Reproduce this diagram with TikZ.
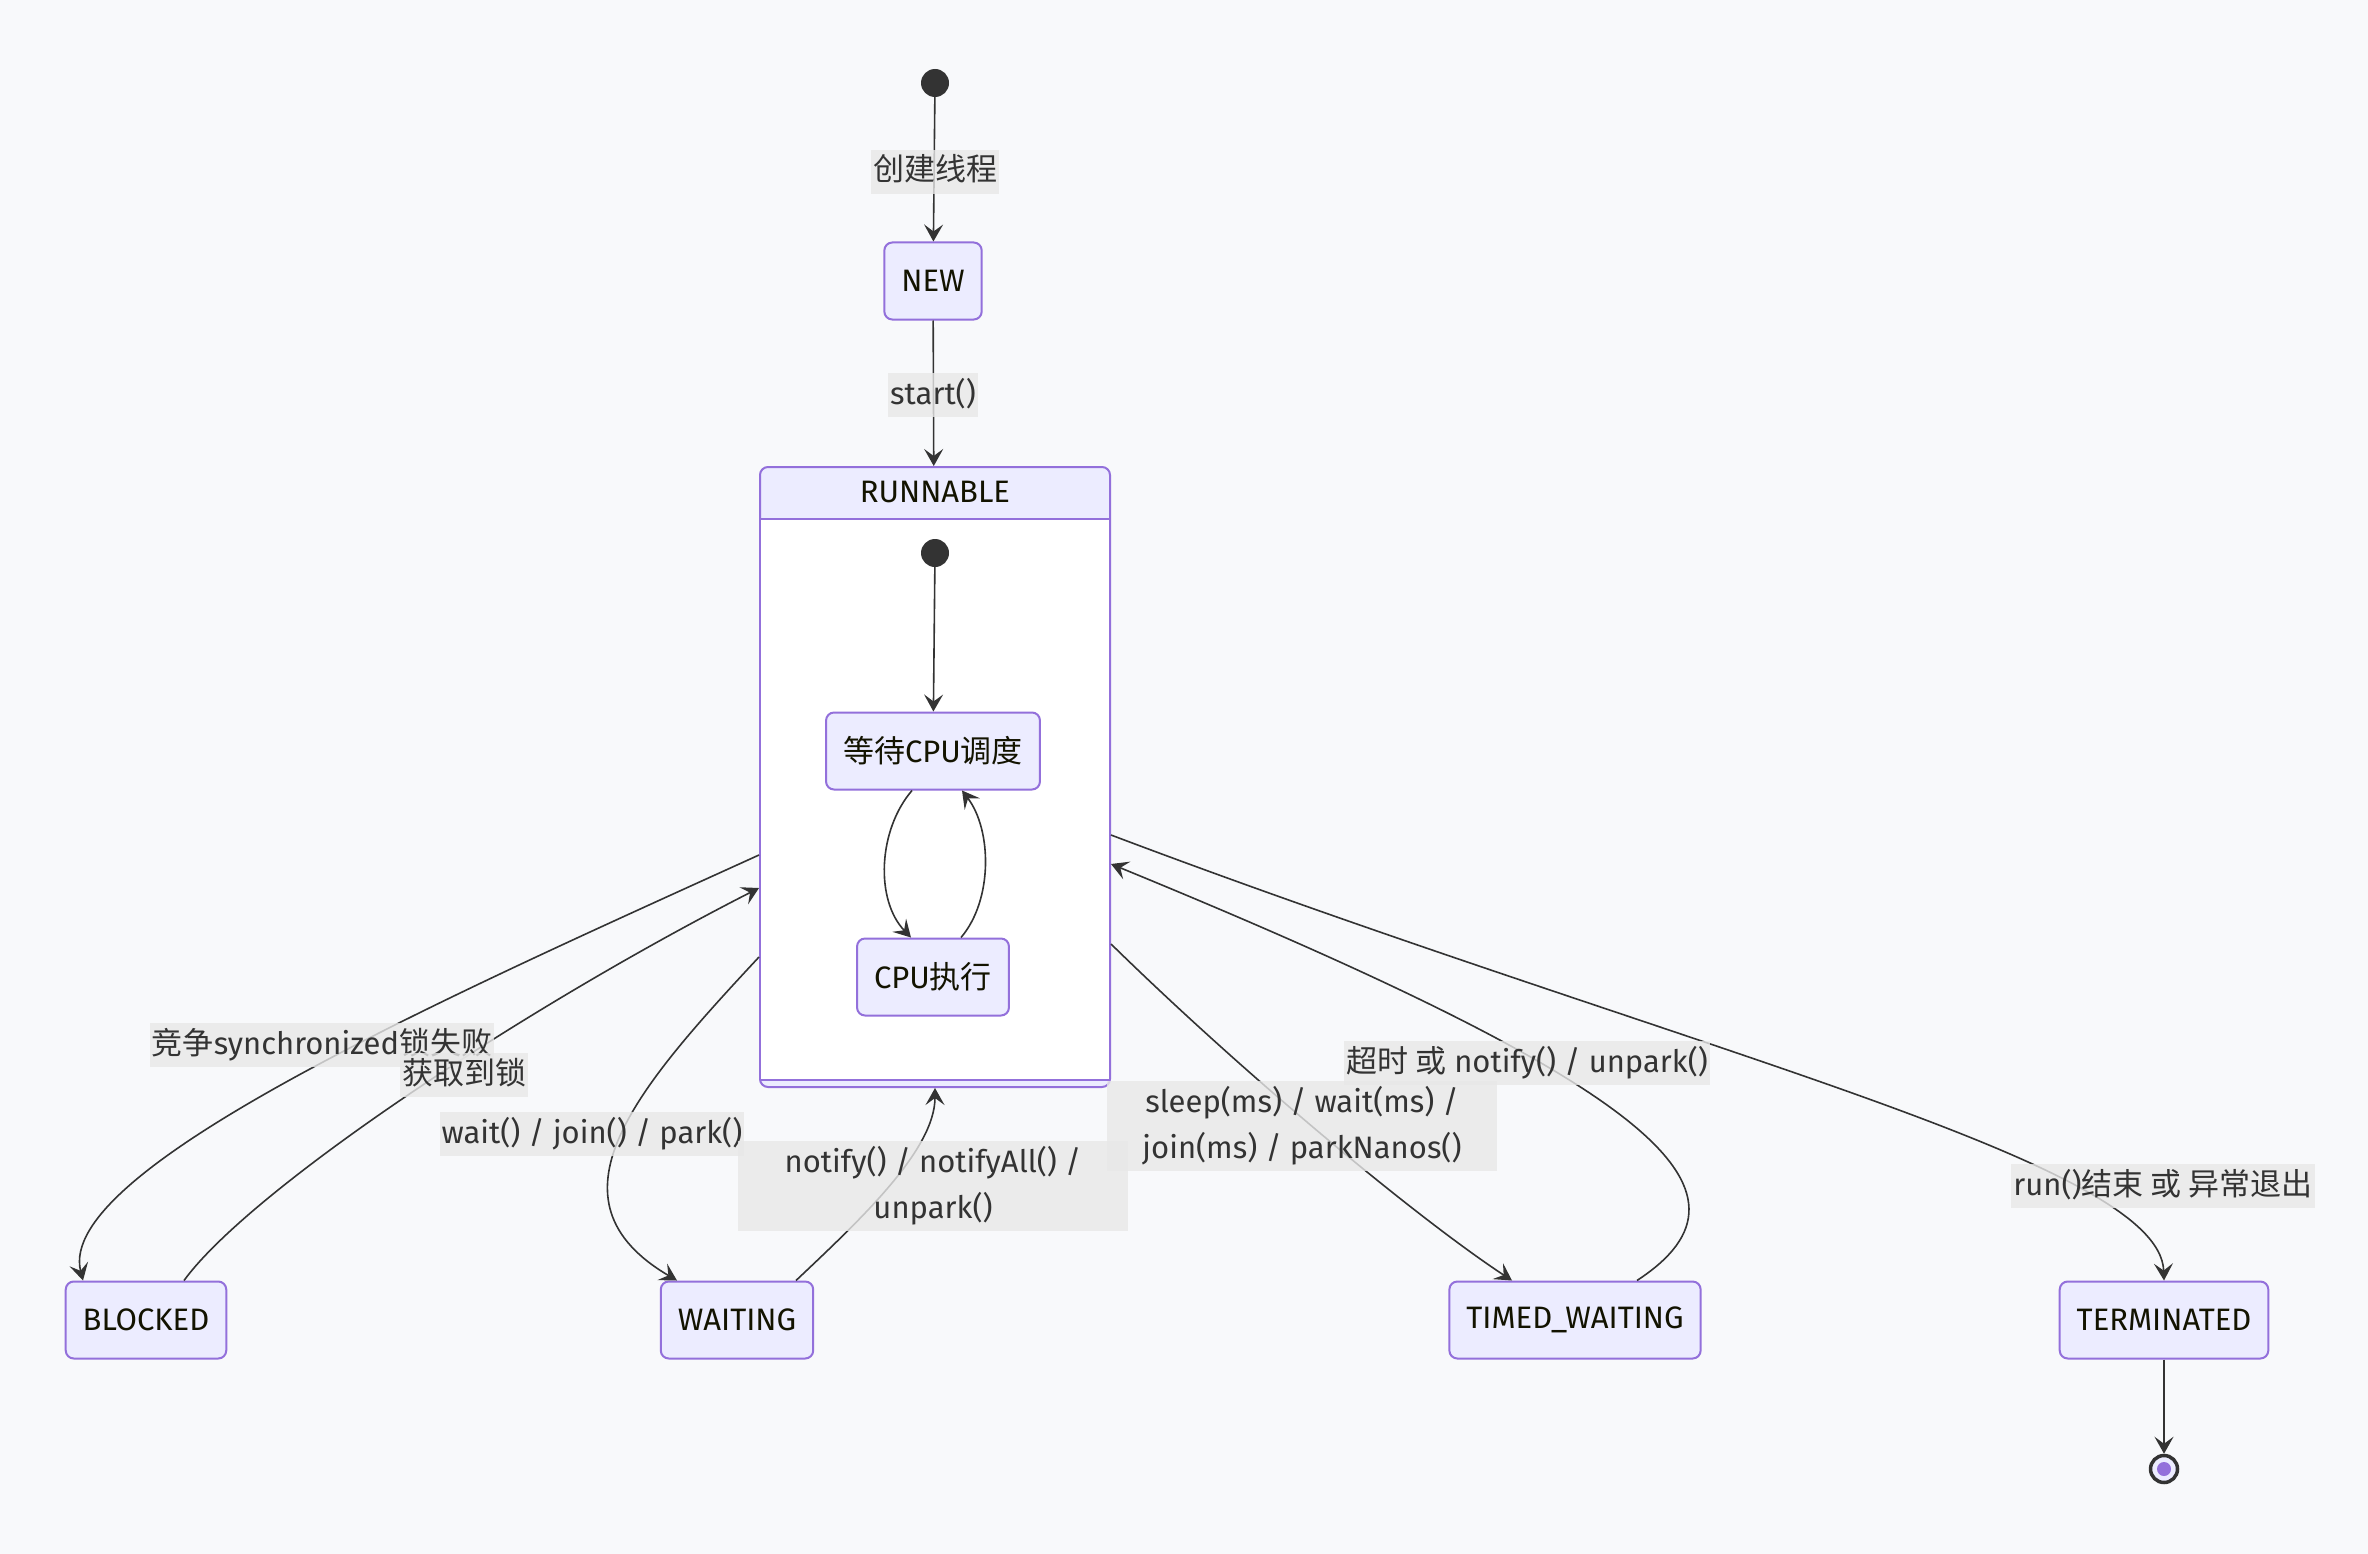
\documentclass[tikz,border=0pt]{standalone}
\usepackage{fontspec}
\setmainfont{Fira Sans}
\newfontfamily\cjk{Noto Sans CJK SC}
\usetikzlibrary{arrows.meta}
\definecolor{bgcol}{HTML}{F8F9FB}
\definecolor{statefill}{HTML}{ECECFF}
\definecolor{stateborder}{HTML}{9370DB}
\definecolor{nodetext}{HTML}{131300}
\definecolor{edgecol}{HTML}{333333}
\definecolor{labelbg}{HTML}{E8E8E8}
\newcommand{\zh}[1]{{\cjk #1}}
\tikzset{
  >={Stealth[length=17pt,width=19pt,inset=7pt]},
}
\tikzstyle{every node}=[font=\fontsize{31}{46}\selectfont]
\tikzstyle{state}=[draw=stateborder,fill=statefill,line width=2pt,rounded corners=8pt,minimum height=77pt,inner xsep=17pt,text=nodetext]
\tikzstyle{startdot}=[circle,fill=edgecol,minimum size=28pt,inner sep=0pt]
\tikzstyle{final}=[circle,draw=edgecol,line width=3.5pt,fill=statefill,minimum size=27pt,inner sep=0pt]
\tikzstyle{trans}=[draw=edgecol,line width=1.6pt,->]
\tikzstyle{lbl}=[fill=labelbg,fill opacity=0.8,text opacity=1,text=edgecol,inner xsep=2pt,inner ysep=6pt,text height=25pt,text depth=7pt,align=center]
\tikzstyle{twoline}=[text height={},text depth={},minimum width=390pt]

\begin{document}
\begin{tikzpicture}[x=1pt,y=1pt]
  \fill[bgcol] (0,0) rectangle (2368,-1554);
  \useasboundingbox (0,0) rectangle (2368,-1554);
  % composite state
  \node[state,minimum width=350pt,minimum height=620pt] (run) at (935,-777) {};
  \fill[white] (761,-519) rectangle (1109,-1080);
  \draw[stateborder,line width=2pt] (760,-519) -- (1110,-519) (760,-1080) -- (1110,-1080);
  \node[text=nodetext] (runtitle) at (935,-492) {RUNNABLE};

  \node[startdot] (init) at (935,-83) {};
  \node[state] (new) at (933,-281) {NEW};
  \node[startdot] (inner) at (935,-553) {};
  \node[state] (ready) at (933,-751) {\zh{等待}CPU\zh{调度}};
  \node[state] (exec) at (933,-977) {CPU\zh{执行}};
  \node[state] (blocked) at (146,-1320) {BLOCKED};
  \node[state] (waiting) at (737,-1320) {WAITING};
  \node[state] (timed) at (1575,-1320) {TIMED\_WAITING};
  \node[state] (term) at (2164,-1320) {TERMINATED};
  \node[final] (final) at (2164,-1469) {};
  \fill[stateborder] (final) circle (7pt);

  % transitions
  \draw[trans] (init) -- (new);
  \draw[trans] (new) -- (run);
  \draw[trans] (inner) -- (ready);
  \draw[trans] ([xshift=-21pt]ready.south) .. controls (878,-830) and (875,-900) .. ([xshift=-22pt]exec.north);
  \draw[trans] ([xshift=28pt]exec.north) .. controls (993,-900) and (992,-830) .. ([xshift=29pt]ready.south);
  \draw[trans] ([yshift=-78pt]run.west) .. controls (440,-1000) and (55,-1170) .. ([xshift=-63pt]blocked.north);
  \draw[trans] ([xshift=38pt]blocked.north) .. controls (250,-1190) and (520,-1010) .. ([yshift=-111pt]run.west);
  \draw[trans] ([yshift=-180pt]run.west) .. controls (635,-1090) and (540,-1200) .. ([xshift=-60pt]waiting.north);
  \draw[trans] ([xshift=59pt]waiting.north) .. controls (860,-1220) and (935,-1150) .. (run.south);
  \draw[trans] ([yshift=-167pt]run.east) .. controls (1250,-1080) and (1420,-1220) .. ([xshift=-63pt]timed.north);
  \draw[trans] ([xshift=62pt]timed.north) .. controls (1775,-1190) and (1650,-1085) .. ([yshift=-87pt]run.east);
  \draw[trans] ([yshift=-58pt]run.east) .. controls (1680,-1050) and (2160,-1160) .. (term.north);
  \draw[trans] (term) -- (final);

  % labels
  \node[lbl] (lcreate) at (935,-172) {\zh{创建线程}};
  \node[lbl] (lstart) at (933,-395) {start()};
  \node[lbl] (lsync) at (322,-1045) {\zh{竞争}synchronized\zh{锁失败}};
  \node[lbl] (llock) at (464,-1075) {\zh{获取到锁}};
  \node[lbl] (lwait) at (592,-1134) {wait() / join() / park()};
  \node[lbl,twoline] (lnotify) at (933,-1186) {notify() / notifyAll() /\\unpark()};
  \node[lbl,twoline] (lsleep) at (1302,-1126) {sleep(ms) / wait(ms) /\\join(ms) / parkNanos()};
  \node[lbl] (ltimeout) at (1527,-1063) {\zh{超时 或} notify() / unpark()};
  \node[lbl] (lend) at (2163,-1186) {run()\zh{结束 或 异常退出}};
\end{tikzpicture}
\end{document}
